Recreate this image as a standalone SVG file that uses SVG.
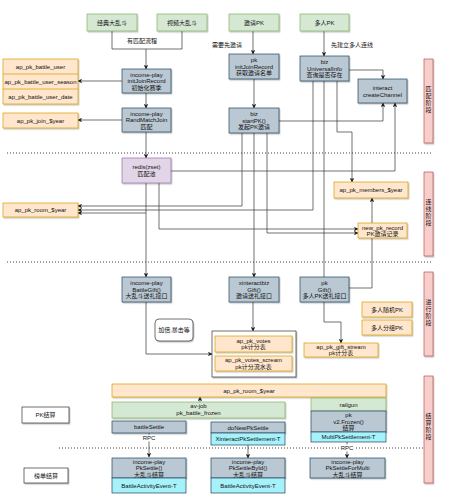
<svg xmlns="http://www.w3.org/2000/svg" width="451" height="500" viewBox="0 0 451 500">
<defs>
<marker id="ah" viewBox="0 0 10 10" refX="9" refY="5" markerWidth="4.5" markerHeight="4.5" orient="auto" markerUnits="userSpaceOnUse">
<path d="M0,0 L10,5 L0,10 L2.5,5 Z" fill="#222"/>
</marker>
<filter id="sh" x="-10%" y="-10%" width="130%" height="140%">
<feDropShadow dx="1" dy="1.2" stdDeviation="0.6" flood-color="#000" flood-opacity="0.25"/>
</filter>
</defs>
<style>
text{font-family:"Liberation Sans","Noto Sans CJK SC",sans-serif;font-size:6px;fill:#111;text-anchor:middle;dominant-baseline:central}
.g{fill:#d5e8d4;stroke:#82b366;stroke-width:0.7;filter:url(#sh)}
.b{fill:#bac8d3;stroke:#23445d;stroke-width:0.7;filter:url(#sh)}
.o{fill:#ffe6cc;stroke:#d79b00;stroke-width:0.7;filter:url(#sh)}
.p{fill:#e1d5e7;stroke:#9673a6;stroke-width:0.7;filter:url(#sh)}
.r{fill:#f8cecc;stroke:#b85450;stroke-width:0.7;filter:url(#sh)}
.c{fill:#a6f2fa;stroke:#23445d;stroke-width:0.7}
.w{fill:#fff;stroke:#333;stroke-width:0.7;filter:url(#sh)}
.l{fill:none;stroke:#333;stroke-width:0.7}
.a{fill:none;stroke:#333;stroke-width:0.7;marker-end:url(#ah)}
.d{fill:none;stroke:#111;stroke-width:0.8;stroke-dasharray:1 2}
</style>
<rect width="451" height="500" fill="#fff"/>

<g id="dividers">
<path class="d" d="M7,153 H432"/>
<path class="d" d="M7,262 H432"/>
<path class="d" d="M59,448 H424"/>
</g>

<g id="connectors">
<path class="l" d="M112,31 V49 H182 V31"/>
<path class="a" d="M146,49 V69"/>
<path class="a" d="M122,81 H78"/>
<path class="a" d="M146,93 V108"/>
<path class="a" d="M122,120 H78"/>
<path class="a" d="M146,132 V158"/>
<path class="a" d="M146,183 V277"/>
<path class="a" d="M146,213 H78"/>
<path class="a" d="M159,183 V229 H358"/>
<path class="a" d="M171,171 H395 V103"/>
<path class="a" d="M253,31 V54"/>
<path class="a" d="M254,79 V108"/>
<path class="a" d="M279,121 H383 V103"/>
<path class="a" d="M242,133 V206 H78"/>
<path class="a" d="M254,133 V277"/>
<path class="a" d="M267,133 V233 H358"/>
<path class="a" d="M324,31 V56"/>
<path class="a" d="M349,70 H383 V79"/>
<path class="a" d="M337,81 V132 H352 V182"/>
<path class="l" d="M324,81 V277"/>
<path class="a" d="M313,81 V210 H78"/>
<path class="a" d="M349,288 H372 V198"/>
<path class="a" d="M253,302 V331"/>
<path class="a" d="M146,302 V354 H212"/>
<path class="a" d="M324,302 V322 H341 V343"/>
<path class="a" d="M200,402 V397"/>
<path class="a" d="M149,433 V457"/>
<path class="a" d="M248,445 V458"/>
<path class="a" d="M347,442 V458"/>
<text x="142" y="41">有匹配流程</text>
<text x="227" y="45">需要先邀请</text>
<text x="352" y="45">先建立多人连线</text>
<rect x="142" y="434.5" width="14" height="7" fill="#fff"/>
<text x="149" y="438">RPC</text>
<rect x="340" y="444.5" width="14" height="7" fill="#fff"/>
<text x="347" y="448">RPC</text>
</g>

<g id="n-jingdian"><rect class="g" x="87" y="14" width="50" height="17"/><text x="112" y="22.5">经典大乱斗</text></g>
<g id="n-shipin"><rect class="g" x="157" y="14" width="50" height="17"/><text x="182" y="22.5">视频大乱斗</text></g>
<g id="n-yaoqing"><rect class="g" x="229" y="14" width="50" height="17"/><text x="254" y="22.5">邀请PK</text></g>
<g id="n-duoren"><rect class="g" x="300" y="14" width="49" height="17"/><text x="324.5" y="22.5">多人PK</text></g>

<g id="n-initjoin"><rect class="b" x="122" y="69" width="49" height="24"/><text x="146.5" y="74.5">income-play</text><text x="146.5" y="81">initJoinRecord</text><text x="146.5" y="87.5">初始化赛季</text></g>
<g id="n-battleuser"><rect class="o" x="3" y="59" width="75" height="45"/><line x1="3" y1="74" x2="78" y2="74" stroke="#d79b00" stroke-width="0.7"/><line x1="3" y1="89" x2="78" y2="89" stroke="#d79b00" stroke-width="0.7"/><text x="40.5" y="66.5">ap_pk_battle_user</text><text x="40.5" y="81.5">ap_pk_battle_user_season</text><text x="40.5" y="96.5">ap_pk_battle_user_date</text></g>
<g id="n-randmatch"><rect class="b" x="122" y="108" width="49" height="24"/><text x="146.5" y="113.5">income-play</text><text x="146.5" y="120">RandMatchJoin</text><text x="146.5" y="126.5">匹配</text></g>
<g id="n-joinyear"><rect class="o" x="3" y="113" width="75" height="15"/><text x="40.5" y="120.5">ap_pk_join_$year</text></g>
<g id="n-redis"><rect class="p" x="122" y="158" width="49" height="25"/><text x="146.5" y="167">redis(zset)</text><text x="146.5" y="174">匹配池</text></g>
<g id="n-pkinitjoin"><rect class="b" x="229" y="54" width="50" height="25"/><text x="254" y="60">pk</text><text x="254" y="66.5">initJoinRecord</text><text x="254" y="73">获取邀请名单</text></g>
<g id="n-universal"><rect class="b" x="300" y="56" width="49" height="25"/><text x="324.5" y="62">biz</text><text x="324.5" y="68.5">UniversalInfo</text><text x="324.5" y="75">查询是否存在</text></g>
<g id="n-createchannel"><rect class="b" x="358" y="79" width="49" height="24"/><text x="382.5" y="87.5">interact</text><text x="382.5" y="94.5">createChannel</text></g>
<g id="n-startpk"><rect class="b" x="229" y="108" width="50" height="25"/><text x="254" y="114">biz</text><text x="254" y="120.5">startPK()</text><text x="254" y="127">发起PK邀请</text></g>
<g id="n-members"><rect class="o" x="334" y="182" width="74" height="16"/><text x="371" y="190">ap_pk_members_$year</text></g>
<g id="n-newrecord"><rect class="o" x="358" y="223" width="49" height="15"/><text x="382.5" y="227.5">new_pk_record</text><text x="382.5" y="234">PK邀请记录</text></g>
<g id="n-roomyear"><rect class="o" x="3" y="203" width="75" height="14"/><text x="40.5" y="210">ap_pk_room_$year</text></g>

<g id="n-battlegift"><rect class="b" x="122" y="277" width="49" height="25"/><text x="146.5" y="283">income-play</text><text x="146.5" y="289.5">BattleGift()</text><text x="146.5" y="296">大乱斗送礼接口</text></g>
<g id="n-xgift"><rect class="b" x="229" y="277" width="50" height="25"/><text x="254" y="283">xinteractbiz</text><text x="254" y="289.5">Gift()</text><text x="254" y="296">邀请送礼接口</text></g>
<g id="n-pkgift"><rect class="b" x="300" y="277" width="49" height="25"/><text x="324.5" y="283">pk</text><text x="324.5" y="289.5">Gift()</text><text x="324.5" y="296">多人PK送礼接口</text></g>
<g id="n-random"><rect class="o" x="362" y="302" width="50" height="15"/><text x="387" y="309.5">多人随机PK</text></g>
<g id="n-group"><rect class="o" x="362" y="320" width="50" height="15"/><text x="387" y="327.5">多人分组PK</text></g>
<g id="n-votes"><rect class="w" x="212" y="331" width="84" height="46"/><rect class="o" x="215" y="336" width="77" height="16"/><text x="253.5" y="340.5">ap_pk_votes</text><text x="253.5" y="347">pk计分表</text><rect class="o" x="215" y="356" width="77" height="15"/><text x="253.5" y="360">ap_pk_votes_scream</text><text x="253.5" y="366.5">pk计分流水表</text></g>
<g id="n-jiabei"><rect class="w" x="155" y="319" width="38" height="22" rx="4"/><text x="174" y="330">加倍,暴击等</text></g>
<g id="n-giftstream"><rect class="o" x="304" y="343" width="74" height="14"/><text x="341" y="346.8">ap_pk_gift_stream</text><text x="341" y="353">pk计分表</text></g>

<g id="stage-match"><rect class="r" x="424" y="59" width="9" height="84"/><text x="428.5" y="89">匹</text><text x="428.5" y="96">配</text><text x="428.5" y="103">阶</text><text x="428.5" y="110">段</text></g>
<g id="stage-link"><rect class="r" x="424" y="172" width="9" height="84"/><text x="428.5" y="202">连</text><text x="428.5" y="209">线</text><text x="428.5" y="216">阶</text><text x="428.5" y="223">段</text></g>
<g id="stage-run"><rect class="r" x="424" y="272" width="9" height="84"/><text x="428.5" y="302">进</text><text x="428.5" y="309">行</text><text x="428.5" y="316">阶</text><text x="428.5" y="323">段</text></g>
<g id="stage-settle"><rect class="r" x="424" y="376" width="9" height="107"/><text x="428.5" y="416">结</text><text x="428.5" y="423">算</text><text x="428.5" y="430">阶</text><text x="428.5" y="437">段</text></g>

<g id="n-roombar"><rect class="o" x="112" y="384" width="274" height="13"/><text x="249" y="390.5">ap_pk_room_$year</text></g>
<g id="n-avjob"><rect class="g" x="112" y="402" width="173" height="16"/><text x="198.5" y="406">av-job</text><text x="198.5" y="413">pk_battle_frozen</text></g>
<g id="n-railgun"><rect class="g" x="311" y="398" width="75" height="13"/><text x="348.5" y="404.5">railgun</text><rect class="b" x="311" y="411" width="75" height="21"/><text x="348.5" y="415">pk</text><text x="348.5" y="421.5">v2.Frozen()</text><text x="348.5" y="428">结算</text><rect class="c" x="311" y="432" width="75" height="10"/><text x="348.5" y="437">MultiPkSettlement-T</text></g>
<g id="n-battlesettle"><rect class="b" x="112" y="421" width="74" height="12"/><text x="149" y="427">battleSettle</text></g>
<g id="n-donewpk"><rect class="b" x="211" y="422" width="74" height="11"/><text x="248" y="427.5">doNewPkSettle</text><rect class="c" x="211" y="433" width="74" height="12"/><text x="248" y="439">XinteractPkSettlement-T</text></g>
<g id="n-pksettle"><rect class="b" x="112" y="458" width="74" height="20"/><text x="149" y="461.5">income-play</text><text x="149" y="468">PkSettle()</text><text x="149" y="474.5">大乱斗结算</text><rect class="c" x="112" y="478" width="74" height="15"/><text x="149" y="485.5">BattleActivityEvent-T</text></g>
<g id="n-pksettlebyid"><rect class="b" x="211" y="458" width="74" height="20"/><text x="248" y="461.5">income-play</text><text x="248" y="468">PkSettleById()</text><text x="248" y="474.5">大乱斗结算</text><rect class="c" x="211" y="478" width="74" height="15"/><text x="248" y="485.5">BattleActivityEvent-T</text></g>
<g id="n-pksettlemulti"><rect class="b" x="310" y="458" width="75" height="20"/><text x="347.5" y="461.5">income-play</text><text x="347.5" y="468">PkSettleForMulti</text><text x="347.5" y="474.5">大乱斗结算</text></g>
<g id="n-pkjs"><rect class="w" x="22" y="407" width="47" height="16"/><text x="45.5" y="415">PK结算</text></g>
<g id="n-bdjs"><rect class="w" x="24" y="468" width="44" height="15"/><text x="46" y="475.5">榜单结算</text></g>
</svg>
